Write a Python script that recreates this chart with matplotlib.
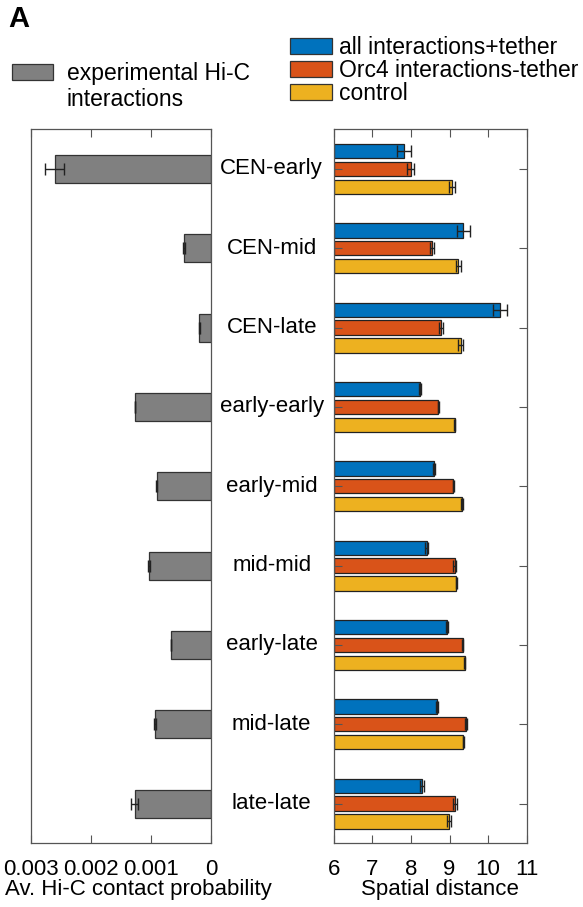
import numpy as np
import matplotlib
matplotlib.use("Agg")
import matplotlib.pyplot as plt
from matplotlib.patches import Patch
from matplotlib.transforms import blended_transform_factory

plt.rcParams['font.family'] = ['Liberation Sans', 'DejaVu Sans']
plt.rcParams['font.size'] = 16

categories = ["CEN-early", "CEN-mid", "CEN-late", "early-early", "early-mid",
              "mid-mid", "early-late", "mid-late", "late-late"]

# averaged Hi-C contact probability (left panel)
hic = [0.00260, 0.00045, 0.00020, 0.00127, 0.00091, 0.00103, 0.00067, 0.00094, 0.00127]
hic_err = [0.00016, 0.00002, 0.00001, 0.000005, 0.000005, 0.00002, 0.000005, 0.00002, 0.00006]

# spatial distances from the simulations (right panel)
dist_all = [7.82, 9.36, 10.31, 8.24, 8.60, 8.41, 8.93, 8.68, 8.28]
dist_all_err = [0.19, 0.17, 0.18, 0.02, 0.02, 0.04, 0.02, 0.03, 0.05]
dist_orc4 = [7.99, 8.54, 8.78, 8.71, 9.10, 9.13, 9.34, 9.43, 9.14]
dist_orc4_err = [0.08, 0.05, 0.04, 0.02, 0.02, 0.03, 0.02, 0.03, 0.06]
dist_ctrl = [9.06, 9.23, 9.29, 9.13, 9.32, 9.18, 9.39, 9.36, 8.99]
dist_ctrl_err = [0.08, 0.07, 0.07, 0.02, 0.02, 0.02, 0.02, 0.02, 0.05]

series_labels = ["all interactions+tether", "Orc4 interactions-tether", "control"]
series_colors = ["#0072BD", "#D95319", "#EDB120"]
gray = "#808080"
spine_col = "#555555"

W, H = 583, 907
fig = plt.figure(figsize=(W / 100, H / 100), dpi=100)


def px_axes(x0, x1, ytop, ybot):
    return fig.add_axes([x0 / W, (H - ybot) / H, (x1 - x0) / W, (ybot - ytop) / H])


ax_l = px_axes(30.7, 211.3, 129.3, 843.3)
ax_r = px_axes(333.7, 526.7, 129.3, 843.3)

y = np.arange(len(categories))

# left panel: grey bars growing leftwards
ax_l.barh(y, hic, height=0.35, color=gray, edgecolor="#333333", linewidth=0.9)
ax_l.errorbar(hic, y, xerr=hic_err, fmt="none", ecolor="#222222",
              elinewidth=1.0, capsize=4.5, capthick=1.0)
ax_l.set_xlim(0.003, 0)
ax_l.set_ylim(len(categories) - 0.5, -0.5)
ax_l.set_xticks([0.003, 0.002, 0.001, 0])
ax_l.set_xticklabels(["0.003", "0.002", "0.001", "0"])
ax_l.set_yticks([])
ax_l.tick_params(axis="x", direction="in", top=True, length=6, width=0.8,
                 color=spine_col, pad=11, labelsize=16)

# right panel: three simulation conditions per category
offs = [-0.224, 0.0, 0.224]
vals = [dist_all, dist_orc4, dist_ctrl]
errs = [dist_all_err, dist_orc4_err, dist_ctrl_err]
for off, v, e, c in zip(offs, vals, errs, series_colors):
    v = np.array(v)
    ax_r.barh(y + off, v - 6, left=6, height=0.18, color=c,
              edgecolor="#222222", linewidth=0.9)
    ax_r.errorbar(v, y + off, xerr=e, fmt="none", ecolor="#222222",
                  elinewidth=1.0, capsize=4, capthick=1.0)
ax_r.set_xlim(6, 11)
ax_r.set_ylim(len(categories) - 0.5, -0.5)
ax_r.set_xticks([6, 7, 8, 9, 10, 11])
ax_r.set_yticks(y)
ax_r.set_yticklabels([])
ax_r.tick_params(axis="x", direction="in", top=True, length=6, width=0.8,
                 color=spine_col, pad=11, labelsize=16)
ax_r.tick_params(axis="y", direction="in", left=True, right=True, length=6,
                 width=0.8, color=spine_col)

for ax in (ax_l, ax_r):
    for s in ax.spines.values():
        s.set_color(spine_col)
        s.set_linewidth(0.9)

# category names sit between the two panels
tr = blended_transform_factory(fig.transFigure, ax_r.transData)
for yi, name in zip(y, categories):
    fig.text(271.7 / W, yi, name, transform=tr, ha="center", va="center",
             fontsize=16)

fig.text(138 / W, 1 - 889 / H, "Av. Hi-C contact probability",
         ha="center", va="center", fontsize=16)
fig.text(440 / W, 1 - 889 / H, "Spatial distance",
         ha="center", va="center", fontsize=16)

fig.text(8 / W, 1 - 19 / H, "A", fontsize=21, fontweight="bold",
         ha="left", va="center")

leg1 = fig.legend(handles=[Patch(facecolor=gray, edgecolor="#333333", linewidth=0.9)],
                  labels=["experimental Hi-C"],
                  loc="upper left", bbox_to_anchor=(12 / W, 1 - 62 / H),
                  frameon=False, fontsize=16.5, handlelength=1.8, handleheight=0.7,
                  handletextpad=0.6, borderaxespad=0, borderpad=0)
fig.text(67 / W, 1 - 100 / H, "interactions", ha="left", va="center", fontsize=16.5)

leg2 = fig.legend(handles=[Patch(facecolor=c, edgecolor="#333333", linewidth=0.9)
                           for c in series_colors],
                  labels=series_labels, loc="upper left",
                  bbox_to_anchor=(290 / W, 1 - 36 / H), frameon=False,
                  fontsize=16.5, handlelength=1.85, handleheight=0.7,
                  handletextpad=0.3, labelspacing=0.0, borderaxespad=0,
                  borderpad=0)

fig.savefig("out.png", dpi=100)
